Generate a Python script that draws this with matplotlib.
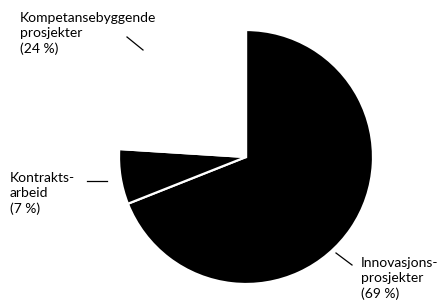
import matplotlib
matplotlib.use("Agg")
import matplotlib.pyplot as plt

labels = ["Innovasjons-\nprosjekter", "Kontrakts-\narbeid", "Kompetansebyggende\nprosjekter"]
values = [69, 7, 24]
colors = ["#000000", "#000000", "#ffffff"]

plt.rcParams['font.family'] = ['Lato', 'DejaVu Sans']

W, H = 437, 303
fig = plt.figure(figsize=(W / 100, H / 100), dpi=100)
cx, cy, r = 246, 157, 127
ax = fig.add_axes([(cx - r) / W, (H - cy - r) / H, 2 * r / W, 2 * r / H])
ax.pie(values, colors=colors, startangle=90, counterclock=False,
       wedgeprops=dict(edgecolor="white", linewidth=1.6), radius=1)
ax.set_xlim(-1, 1)
ax.set_ylim(-1, 1)
ax.set_aspect('equal')
ax.axis('off')

def px(x, y):
    return x / W, 1 - y / H

texts = [f"{l}\n({v} %)" for l, v in zip(labels, values)]
pos = [(361, 257), (10, 172), (20, 12)]
for t, (x, y) in zip(texts, pos):
    fig.text(*px(x, y), t, ha='left', va='top', fontsize=10, linespacing=1.3, color='black')

lines = [((336, 253), (352, 265)), ((87, 180.5), (107, 180.5)), ((127, 37), (143, 50))]
for (x0, y0), (x1, y1) in lines:
    a, b = px(x0, y0)
    c, d = px(x1, y1)
    fig.add_artist(plt.Line2D([a, c], [b, d], color='black', linewidth=0.9, transform=fig.transFigure))

fig.savefig("out.png", dpi=100, facecolor='white')
